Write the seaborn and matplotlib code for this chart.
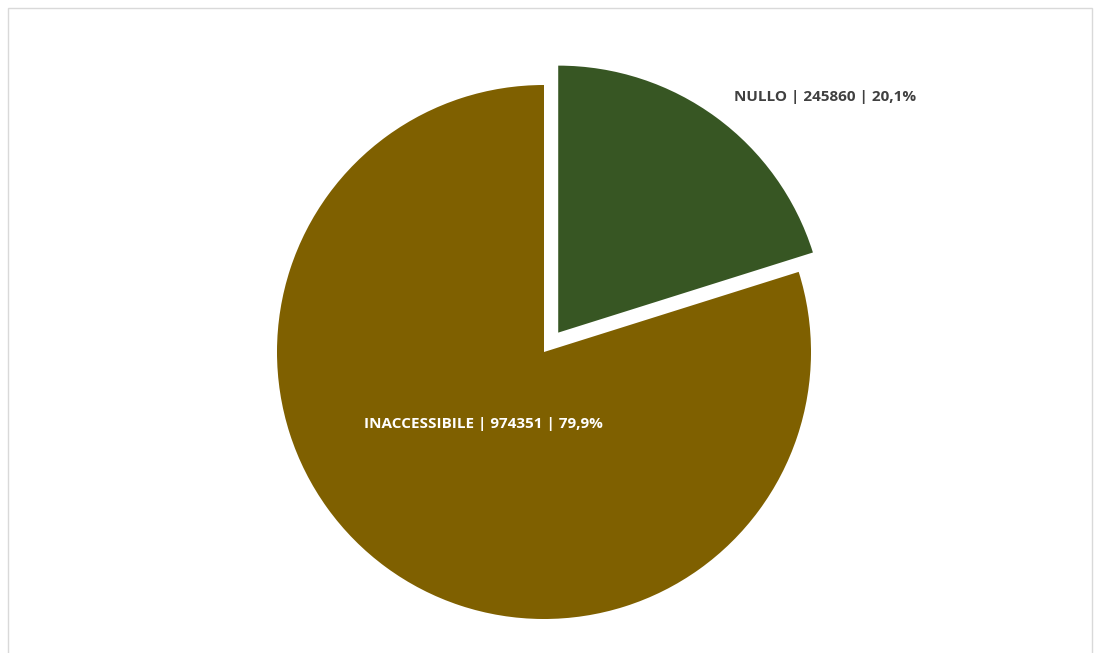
import matplotlib.pyplot as plt
import seaborn as sns
from matplotlib.patches import Rectangle

sns.set_theme(style="white")
plt.rcParams['font.family'] = ['Open Sans', 'DejaVu Sans']

categories = ['NULLO', 'INACCESSIBILE']
values = [245860, 974351]
colors = ['#375623', '#7F6000']
label_colors = ['#404040', 'white']
label_pos = [(1.052, 0.955), (-0.228, -0.27)]

fig = plt.figure(figsize=(11, 6.53), dpi=100)
ax = fig.add_axes([0, 0, 1, 1])

ax.pie(values, colors=colors, startangle=90, counterclock=False,
       explode=[0.09, 0], radius=1,
       wedgeprops={'linewidth': 0})

r = 267.0
ax.set_xlim(-544 / r, (1100 - 544) / r)
ax.set_ylim(-(653 - 352) / r, 352 / r)
ax.set_aspect('auto')
ax.axis('off')

total = sum(values)
for name, val, col, pos in zip(categories, values, label_colors, label_pos):
    pct = f"{val / total * 100:.1f}".replace('.', ',')
    ax.text(pos[0], pos[1], f"{name} | {val} | {pct}%", color=col,
            fontsize=11, fontweight='bold', ha='center', va='center')

# outer chart frame
fig.patches.append(Rectangle((8 / 1100, -0.01), 1084 / 1100, 1 - 8 / 653 + 0.01,
                             transform=fig.transFigure, fill=False,
                             edgecolor='#d9d9d9', linewidth=1))

fig.savefig('out.png', dpi=100)
